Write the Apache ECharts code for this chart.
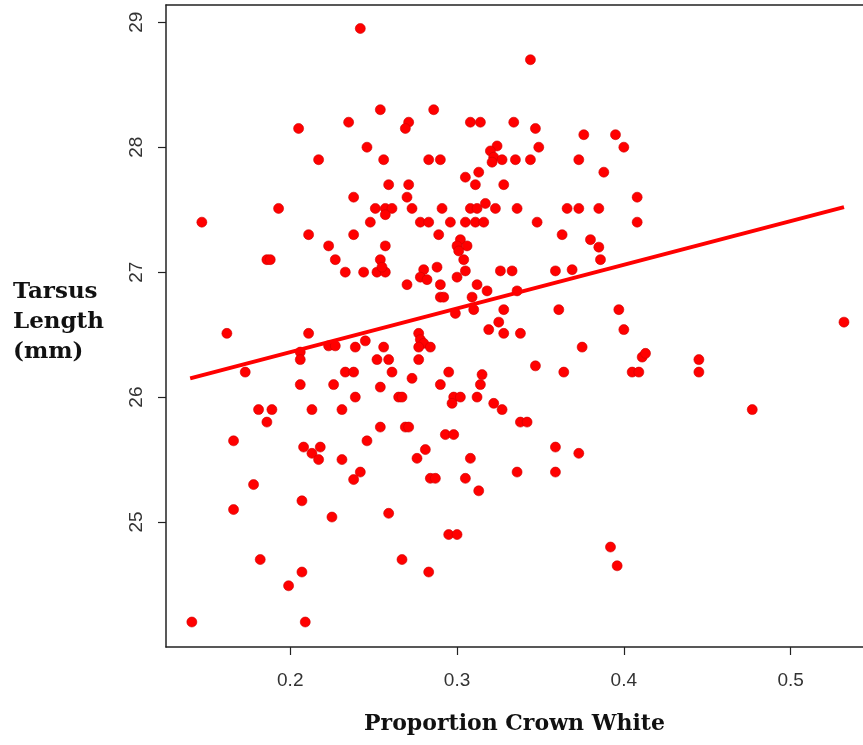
<!DOCTYPE html>
<html>
<head>
<meta charset="utf-8">
<script src="https://cdn.jsdelivr.net/npm/echarts@6/dist/echarts.min.js"></script>
<style>
html,body{margin:0;padding:0;background:#fff;}
#chart{width:863px;height:745px;}
</style>
</head>
<body>
<div id="chart"></div>
<script>
// Proportion of crown white (x) for each bird
const crownWhite = [
  0.242,0.344,0.286,0.254,0.271,0.269,0.308,0.314,0.334,0.347,
  0.376,0.395,0.400,0.349,0.324,0.320,0.322,0.321,0.283,0.290,
  0.327,0.335,0.344,0.373,0.388,0.305,0.313,0.311,0.328,0.271,
  0.270,0.408,0.273,0.291,0.308,0.312,0.317,0.323,0.336,0.366,
  0.373,0.385,0.278,0.283,0.296,0.305,0.311,0.316,0.348,0.408,
  0.289,0.363,0.380,0.385,0.386,0.302,0.300,0.306,0.301,0.304,
  0.288,0.305,0.326,0.333,0.359,0.369,0.280,0.278,0.282,0.300,
  0.270,0.290,0.312,0.318,0.336,0.290,0.292,0.309,0.246,0.217,
  0.256,0.259,0.238,0.193,0.251,0.257,0.261,0.257,0.147,0.248,
  0.211,0.238,0.223,0.257,0.186,0.227,0.254,0.233,0.244,0.252,
  0.257,0.255,0.162,0.211,0.205,0.235,0.173,0.206,0.206,0.223,
  0.227,0.239,0.245,0.256,0.252,0.259,0.261,0.233,0.238,0.206,
  0.226,0.254,0.265,0.239,0.181,0.189,0.186,0.213,0.231,0.254,
  0.269,0.166,0.246,0.208,0.218,0.213,0.217,0.231,0.242,0.238,
  0.178,0.207,0.166,0.225,0.259,0.310,0.299,0.328,0.361,0.397,
  0.400,0.325,0.319,0.328,0.338,0.277,0.278,0.280,0.277,0.284,
  0.277,0.375,0.411,0.413,0.405,0.409,0.347,0.364,0.273,0.295,
  0.315,0.314,0.290,0.267,0.298,0.302,0.297,0.312,0.322,0.327,
  0.338,0.342,0.271,0.293,0.298,0.281,0.276,0.308,0.359,0.373,
  0.284,0.287,0.305,0.313,0.336,0.359,0.295,0.300,0.182,0.207,
  0.199,0.141,0.209,0.267,0.283,0.392,0.396,0.445,0.445,0.477,
  0.532,0.188
];
// Tarsus length in mm (y) for each bird
const tarsusLength = [
  28.95,28.70,28.30,28.30,28.20,28.15,28.20,28.20,28.20,28.15,
  28.10,28.10,28.00,28.00,28.01,27.97,27.92,27.88,27.90,27.90,
  27.90,27.90,27.90,27.90,27.80,27.76,27.80,27.70,27.70,27.70,
  27.60,27.60,27.51,27.51,27.51,27.51,27.55,27.51,27.51,27.51,
  27.51,27.51,27.40,27.40,27.40,27.40,27.40,27.40,27.40,27.40,
  27.30,27.30,27.26,27.20,27.10,27.26,27.21,27.21,27.17,27.10,
  27.04,27.01,27.01,27.01,27.01,27.02,27.02,26.96,26.94,26.96,
  26.90,26.90,26.90,26.85,26.85,26.80,26.80,26.80,28.00,27.90,
  27.90,27.70,27.60,27.51,27.51,27.51,27.51,27.46,27.40,27.40,
  27.30,27.30,27.21,27.21,27.10,27.10,27.10,27.00,27.00,27.00,
  27.00,27.04,26.51,26.51,28.15,28.20,26.20,26.36,26.30,26.41,
  26.41,26.40,26.45,26.40,26.30,26.30,26.20,26.20,26.20,26.10,
  26.10,26.08,26.00,26.00,25.90,25.90,25.80,25.90,25.90,25.76,
  25.76,25.65,25.65,25.60,25.60,25.55,25.50,25.50,25.40,25.34,
  25.30,25.17,25.10,25.04,25.07,26.70,26.67,26.70,26.70,26.70,
  26.54,26.60,26.54,26.51,26.51,26.51,26.46,26.43,26.40,26.40,
  26.30,26.40,26.32,26.35,26.20,26.20,26.25,26.20,26.15,26.20,
  26.18,26.10,26.10,26.00,26.00,26.00,25.95,26.00,25.95,25.90,
  25.80,25.80,25.76,25.70,25.70,25.58,25.51,25.51,25.60,25.55,
  25.35,25.35,25.35,25.25,25.40,25.40,24.90,24.90,24.70,24.60,
  24.49,24.20,24.20,24.70,24.60,24.80,24.65,26.30,26.20,25.90,
  26.60,27.10
];
// Fitted regression line end points
const fitX = [0.140, 0.532];
const fitY = [26.15, 27.52];
// Tick labels
const xTicks = [0.2, 0.3, 0.4, 0.5];
const yTicks = [25, 26, 27, 28, 29];

const points = crownWhite.map((x, i) => [x, tarsusLength[i]]);
const fitLine = fitX.map((x, i) => [x, fitY[i]]);

const chart = echarts.init(document.getElementById('chart'), null, {renderer: 'canvas'});
const axisColor = '#222';
chart.setOption({
  animation: false,
  backgroundColor: '#fff',
  grid: {left: 166, top: 5, width: 697, height: 642, containLabel: false},
  xAxis: [{
    type: 'value', position: 'bottom', min: 0.1255, max: 0.5434,
    axisLine: {show: true, onZero: false, lineStyle: {color: axisColor, width: 1.5}},
    axisTick: {show: true, length: 8, inside: false, customValues: xTicks, lineStyle: {color: axisColor, width: 1.2}},
    axisLabel: {customValues: xTicks, margin: 24, color: '#333', fontFamily: 'Liberation Sans', fontSize: 19,
      formatter: v => v.toFixed(1)},
    splitLine: {show: false},
    name: 'Proportion Crown White', nameLocation: 'middle', nameGap: 66,
    nameTextStyle: {fontFamily: 'DejaVu Serif', fontWeight: 'bold', fontSize: 22, color: '#111'}
  }, {
    type: 'value', position: 'top', min: 0.1255, max: 0.5434,
    axisLine: {show: true, onZero: false, lineStyle: {color: axisColor, width: 1.5}},
    axisTick: {show: false}, axisLabel: {show: false}, splitLine: {show: false}
  }],
  yAxis: {
    type: 'value', min: 24.0, max: 29.138,
    axisLine: {show: true, onZero: false, lineStyle: {color: axisColor, width: 1.5}},
    axisTick: {show: true, length: 8, customValues: yTicks, lineStyle: {color: axisColor, width: 1.2}},
    axisLabel: {customValues: yTicks, rotate: 90, margin: 20, color: '#333', fontFamily: 'Liberation Sans', fontSize: 19},
    splitLine: {show: false}
  },
  graphic: [{
    type: 'text', left: 13, top: 277,
    style: {text: 'Tarsus\nLength\n(mm)', fontFamily: 'DejaVu Serif', fontWeight: 'bold', fontSize: 23,
      lineHeight: 30, fill: '#111'}
  }],
  series: [{
    type: 'scatter', data: points, symbol: 'circle', symbolSize: 10,
    itemStyle: {color: '#ff0000', borderColor: '#cc0000', borderWidth: 0.6, opacity: 1}
  }, {
    type: 'line', data: fitLine, symbol: 'none',
    lineStyle: {color: '#ff0000', width: 4}
  }]
});
</script>
</body>
</html>
